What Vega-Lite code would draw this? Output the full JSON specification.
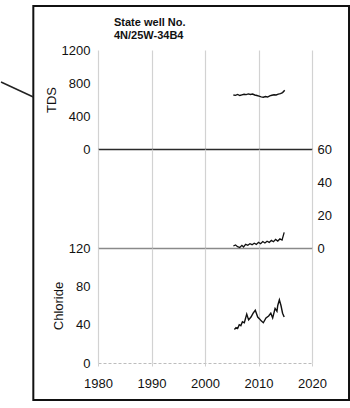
{
  "$schema": "https://vega.github.io/schema/vega-lite/v6.json",
  "autosize": {"type": "pad"},
  "padding": {"left": 0, "top": 5, "right": 0, "bottom": 6},
  "background": "white",
  "spacing": 0,
  "bounds": "flush",
  "datasets": {
    "tds": [
      {"year": 2005.3, "value": 655}, {"year": 2005.7, "value": 650}, {"year": 2006.1, "value": 661},
      {"year": 2006.5, "value": 648}, {"year": 2006.9, "value": 656}, {"year": 2007.3, "value": 664},
      {"year": 2007.7, "value": 659}, {"year": 2008.1, "value": 668}, {"year": 2008.5, "value": 661},
      {"year": 2008.9, "value": 666}, {"year": 2009.3, "value": 655}, {"year": 2009.7, "value": 648},
      {"year": 2010.1, "value": 640}, {"year": 2010.5, "value": 632}, {"year": 2010.9, "value": 628},
      {"year": 2011.3, "value": 636}, {"year": 2011.7, "value": 630}, {"year": 2012.1, "value": 645},
      {"year": 2012.5, "value": 652}, {"year": 2012.9, "value": 658}, {"year": 2013.3, "value": 655},
      {"year": 2013.7, "value": 666}, {"year": 2014.1, "value": 672}, {"year": 2014.5, "value": 684},
      {"year": 2014.9, "value": 712}
    ],
    "nitrate": [
      {"year": 2005.3, "value": 1.2}, {"year": 2005.7, "value": 1.8}, {"year": 2006.1, "value": 0.8},
      {"year": 2006.5, "value": 0.3}, {"year": 2006.9, "value": 1.6}, {"year": 2007.2, "value": 0.6},
      {"year": 2007.6, "value": 2.2}, {"year": 2008.0, "value": 1.6}, {"year": 2008.4, "value": 2.6},
      {"year": 2008.8, "value": 2.0}, {"year": 2009.2, "value": 2.9}, {"year": 2009.6, "value": 2.2},
      {"year": 2010.0, "value": 3.4}, {"year": 2010.4, "value": 2.6}, {"year": 2010.8, "value": 3.9},
      {"year": 2011.2, "value": 3.0}, {"year": 2011.6, "value": 4.1}, {"year": 2012.0, "value": 3.4},
      {"year": 2012.4, "value": 4.6}, {"year": 2012.8, "value": 3.8}, {"year": 2013.2, "value": 5.2},
      {"year": 2013.6, "value": 4.2}, {"year": 2014.0, "value": 5.5}, {"year": 2014.4, "value": 4.8},
      {"year": 2014.8, "value": 9.5}
    ],
    "chloride": [
      {"year": 2005.5, "value": 35}, {"year": 2005.8, "value": 37}, {"year": 2006.1, "value": 36},
      {"year": 2006.4, "value": 40}, {"year": 2006.7, "value": 39}, {"year": 2007.0, "value": 43},
      {"year": 2007.35, "value": 42}, {"year": 2007.8, "value": 51}, {"year": 2008.15, "value": 45},
      {"year": 2008.6, "value": 48}, {"year": 2009.0, "value": 52}, {"year": 2009.4, "value": 55},
      {"year": 2009.85, "value": 48}, {"year": 2010.2, "value": 46}, {"year": 2010.5, "value": 44},
      {"year": 2010.9, "value": 42}, {"year": 2011.4, "value": 47}, {"year": 2011.9, "value": 49},
      {"year": 2012.3, "value": 52}, {"year": 2012.65, "value": 47}, {"year": 2013.1, "value": 57},
      {"year": 2013.45, "value": 54}, {"year": 2013.6, "value": 60}, {"year": 2013.9, "value": 66},
      {"year": 2014.2, "value": 60}, {"year": 2014.5, "value": 52}, {"year": 2014.8, "value": 48}
    ]
  },
  "vconcat": [
    {
      "width": 214,
      "height": 99,
      "title": {
        "text": ["State well No.", "4N/25W-34B4"],
        "anchor": "start",
        "frame": "group",
        "dx": 16,
        "offset": 3,
        "fontSize": 11,
        "fontWeight": "bold",
        "lineHeight": 13,
        "color": "#111"
      },
      "data": {"name": "tds"},
      "mark": {"type": "line", "color": "#111", "strokeWidth": 1.4},
      "encoding": {
        "x": {
          "field": "year", "type": "quantitative",
          "scale": {"domain": [1980, 2020]},
          "axis": {"values": [1980, 1990, 2000, 2010, 2020], "labels": false, "grid": true, "title": null}
        },
        "y": {
          "field": "value", "type": "quantitative",
          "scale": {"domain": [0, 1200]},
          "axis": {
            "values": [0, 400, 800, 1200],
            "format": "d",
            "title": "TDS",
            "titleX": -47,
            "titleBaseline": "middle",
            "labelPadding": 8,
            "grid": true,
            "gridWidth": 1.6,
            "gridColor": {"condition": {"test": "datum.value === 0", "value": "#2a2a2a"}, "value": "rgba(0,0,0,0)"}
          }
        }
      }
    },
    {
      "width": 214,
      "height": 99,
      "data": {"name": "nitrate"},
      "mark": {"type": "line", "color": "#111", "strokeWidth": 1.3},
      "encoding": {
        "x": {
          "field": "year", "type": "quantitative",
          "scale": {"domain": [1980, 2020]},
          "axis": {"values": [1980, 1990, 2000, 2010, 2020], "labels": false, "grid": true, "title": null}
        },
        "y": {
          "field": "value", "type": "quantitative",
          "scale": {"domain": [0, 60]},
          "axis": {
            "orient": "right",
            "values": [0, 20, 40, 60],
            "title": null,
            "labelPadding": 5,
            "grid": true,
            "gridWidth": 1.6,
            "gridColor": {"condition": {"test": "datum.value === 0", "value": "#8a8a8a"}, "value": "rgba(0,0,0,0)"}
          }
        }
      }
    },
    {
      "width": 214,
      "height": 115,
      "resolve": {"axis": {"x": "independent", "y": "independent"}},
      "layer": [
        {
          "data": {"name": "chloride"},
          "mark": {"type": "line", "color": "#111", "strokeWidth": 1.4},
          "encoding": {
            "x": {
              "field": "year", "type": "quantitative",
              "scale": {"domain": [1980, 2020]},
              "axis": {
                "values": [1980, 1990, 2000, 2010, 2020],
                "format": "d",
                "grid": true,
                "ticks": true,
                "tickSize": 3,
                "tickColor": "#cfcfcf",
                "labelPadding": 11,
                "labelFlush": false,
                "title": null
              }
            },
            "y": {
              "field": "value", "type": "quantitative",
              "scale": {"domain": [0, 120]},
              "axis": {
                "values": [0, 40, 80, 120],
                "title": "Chloride",
                "titleX": -40,
                "titleBaseline": "middle",
                "labelPadding": 8,
                "grid": true,
                "gridWidth": 1.2,
                "gridDash": [3, 2],
                "gridColor": {"condition": {"test": "datum.value === 0", "value": "#bdbdbd"}, "value": "rgba(0,0,0,0)"}
              }
            }
          }
        },
        {
          "data": {"values": [{}]},
          "mark": {"type": "rect", "filled": false, "color": "#111", "strokeWidth": 2},
          "encoding": {
            "x": {"datum": 1967.91, "type": "quantitative", "axis": null},
            "x2": {"datum": 2026.92},
            "y": {"datum": -38.6, "type": "quantitative", "axis": null},
            "y2": {"datum": 372.5}
          }
        },
        {
          "data": {"values": [{}]},
          "mark": {"type": "rule", "color": "#222", "strokeWidth": 1.5},
          "encoding": {
            "x": {"datum": 1961.87, "type": "quantitative", "axis": null},
            "x2": {"datum": 1967.91},
            "y": {"datum": 293.2, "type": "quantitative", "axis": null},
            "y2": {"datum": 277.6}
          }
        }
      ]
    }
  ],
  "config": {
    "font": "Liberation Sans",
    "view": {"stroke": null},
    "axis": {
      "domain": false,
      "ticks": false,
      "labelFont": "Liberation Sans",
      "labelFontSize": 13,
      "labelColor": "#111",
      "titleFont": "Liberation Sans",
      "titleFontSize": 13,
      "titleFontWeight": "normal",
      "titleColor": "#111",
      "gridColor": "#d2d2d2",
      "gridWidth": 1.2
    },
    "axisX": {"labelFlush": false}
  }
}
